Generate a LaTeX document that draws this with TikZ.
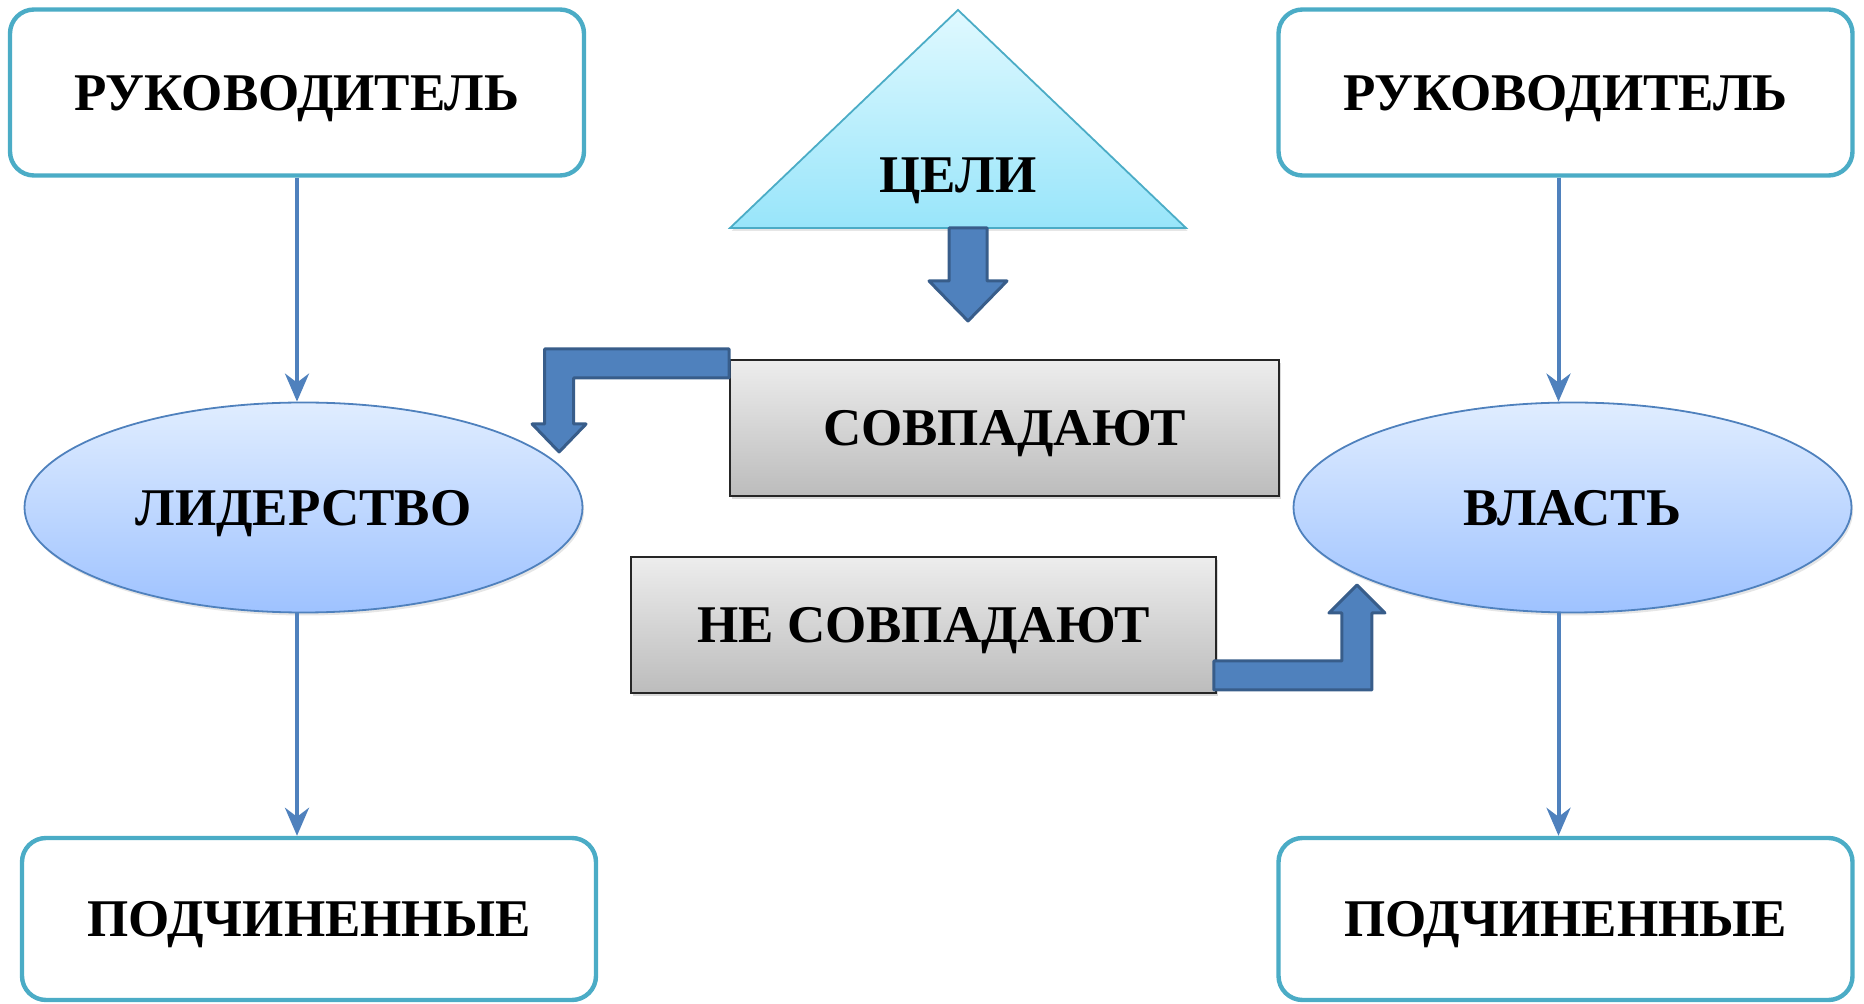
\documentclass[tikz,border=0pt]{standalone}
\usepackage{fontspec}
\setmainfont{Liberation Serif}
\usetikzlibrary{arrows.meta,positioning,calc,shapes.geometric,shadows}
\definecolor{frame}{RGB}{75,172,198}
\definecolor{link}{RGB}{79,129,189}
\definecolor{linkdark}{RGB}{56,93,138}
\definecolor{ovaltop}{RGB}{224,237,255}
\definecolor{ovalbot}{RGB}{158,194,255}
\definecolor{goaltop}{RGB}{224,249,255}
\definecolor{goalbot}{RGB}{152,229,250}
\definecolor{graytop}{RGB}{237,237,237}
\definecolor{graybot}{RGB}{188,188,188}
\newcommand\diagfont{\fontsize{26.5}{30}\selectfont\bfseries}
\tikzset{
 caps/.style={font=\diagfont, text depth=0pt},
 role/.style={caps, draw=frame, fill=white, rounded corners=12pt, line width=2.2pt,
              minimum width=287pt, minimum height=83pt},
 oval/.style={caps, ellipse, draw=link, line width=.9pt, top color=ovaltop, bottom color=ovalbot,
              minimum width=279pt, minimum height=105pt,
              drop shadow={opacity=.2, shadow xshift=.8pt, shadow yshift=-1.5pt}},
 verdict/.style={caps, draw=black!85, line width=.9pt, top color=graytop, bottom color=graybot,
              minimum height=68pt,
              drop shadow={opacity=.3, shadow xshift=1pt, shadow yshift=-1.5pt}},
 flow/.style={-{Stealth[length=14pt,width=12pt,inset=4.5pt]}, line width=2pt, draw=link},
 block/.style={fill=link, draw=linkdark, line width=1.5pt, line join=round}
}

\begin{document}
\begin{tikzpicture}[x=0.5pt, y=-0.5pt]
\useasboundingbox (0,0) rectangle (1864,1004);

% left column
\node[role] (lead1) at (297,92.5) {РУКОВОДИТЕЛЬ};
\node[oval] (leader) at (303.5,507.5) {ЛИДЕРСТВО};
\node[role, minimum height=81pt] (sub1) at (309,919) {ПОДЧИНЕННЫЕ};

% right column
\node[role] (lead2) at (1565.5,92.5) {РУКОВОДИТЕЛЬ};
\node[oval] (power) at (1572.5,507.5) {ВЛАСТЬ};
\node[role, minimum height=81pt] (sub2) at (1565.5,919) {ПОДЧИНЕННЫЕ};

\draw[flow] (lead1) -- (lead1 |- leader.north);
\draw[flow] (leader.south -| lead1) -- (sub1.north -| lead1);
\draw[flow] ([xshift=-3.5pt]lead2.south) -- ([xshift=-3.5pt]lead2.south |- power.north);
\draw[flow] ([xshift=-3.5pt]lead2.south |- power.south) -- ([xshift=-3.5pt]lead2.south |- sub2.north);

% goals triangle
\coordinate (apex) at (958,10);
\coordinate (baseL) at (730,228);
\coordinate (baseR) at (1186,228);
\path[draw=frame, line width=.9pt, top color=goaltop, bottom color=goalbot,
      drop shadow={opacity=.2, shadow xshift=.8pt, shadow yshift=-1.5pt}] (apex) -- (baseR) -- (baseL) -- cycle;
\node[caps] (goals) at (958,175) {ЦЕЛИ};

% match / mismatch
\node[verdict, minimum width=274.5pt] (agree) at (1004.5,428) {СОВПАДАЮТ};
\node[verdict, minimum width=292.5pt] (disagree) at (923.5,625) {НЕ СОВПАДАЮТ};

% block arrows
\draw[block] ($(apex |- baseL)+(-9,0)$) -- ++(0,53) -- ++(-20,0) -- ++(39,40) -- ++(39,-40) -- ++(-20,0) -- ++(0,-53) -- cycle;
\draw[block] ($(agree.west)+(0,-79)$) -- ++(-184.5,0) -- ++(0,75) -- ++(-12.5,0) -- ++(27,28) -- ++(27,-28) -- ++(-12.5,0) -- ++(0,-46) -- ++(155.5,0) -- cycle;
\draw[block] ($(disagree.east)+(-3,36)$) -- ++(128,0) -- ++(0,-48) -- ++(-13,0) -- ++(28,-28) -- ++(28,28) -- ++(-13,0) -- ++(0,77) -- ++(-158,0) -- cycle;

\end{tikzpicture}
\end{document}
